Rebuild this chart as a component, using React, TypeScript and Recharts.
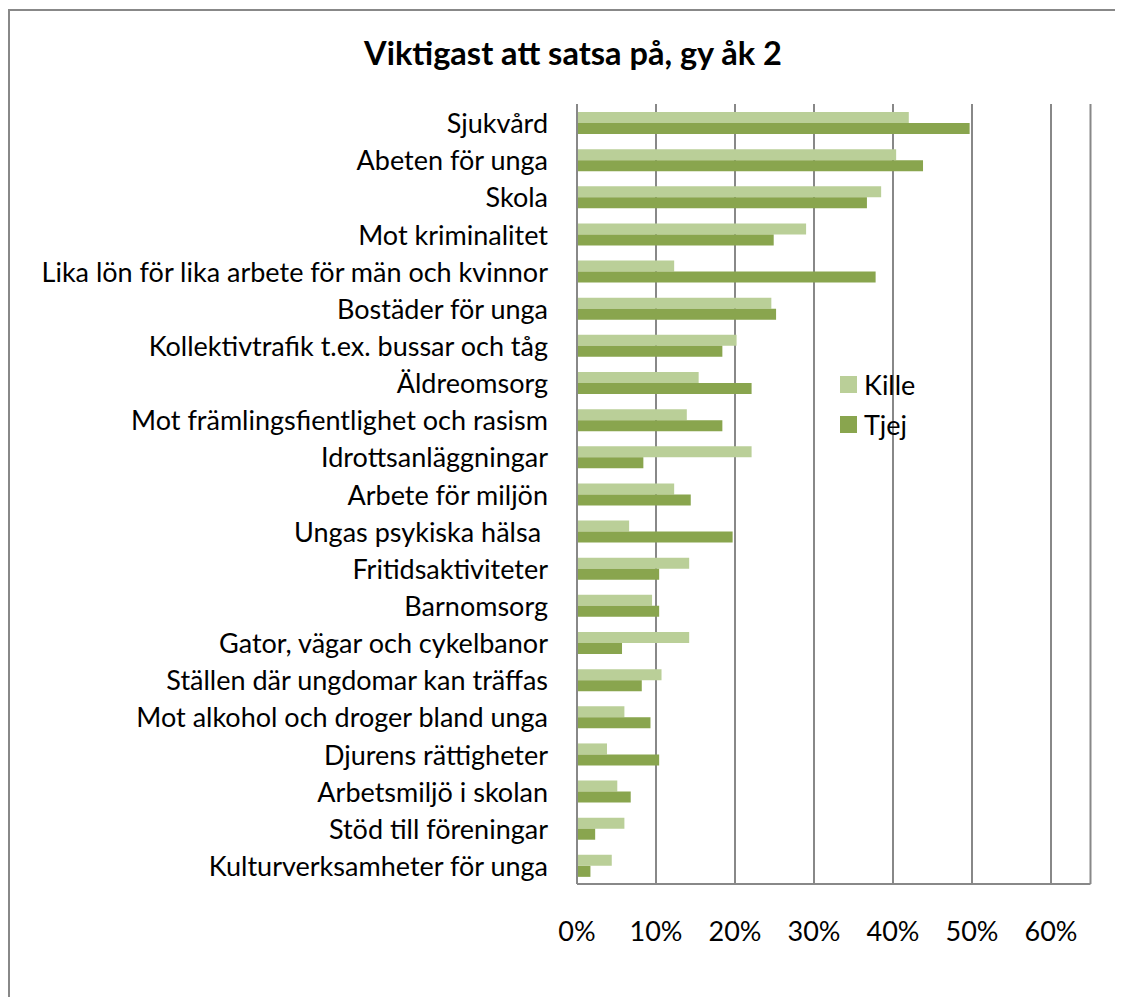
import React from 'react';
import { BarChart, Bar, XAxis, YAxis, CartesianGrid } from 'recharts';

const categories = [
  'Sjukvård',
  'Abeten för unga',
  'Skola',
  'Mot kriminalitet',
  'Lika lön för lika arbete för män och kvinnor',
  'Bostäder för unga',
  'Kollektivtrafik t.ex. bussar och tåg',
  'Äldreomsorg',
  'Mot främlingsfientlighet och rasism',
  'Idrottsanläggningar',
  'Arbete för miljön',
  'Ungas psykiska hälsa\u00a0',
  'Fritidsaktiviteter',
  'Barnomsorg',
  'Gator, vägar och cykelbanor',
  'Ställen där ungdomar kan träffas',
  'Mot alkohol och droger bland unga',
  'Djurens rättigheter',
  'Arbetsmiljö i skolan',
  'Stöd till föreningar',
  'Kulturverksamheter för unga',
];

const kille = [42, 40.4, 38.5, 29, 12.3, 24.6, 20.2, 15.4, 13.9, 22.1, 12.3, 6.6, 14.2, 9.5, 14.2, 10.7, 6, 3.8, 5.1, 6, 4.4];
const tjej = [49.7, 43.8, 36.7, 24.9, 37.8, 25.2, 18.4, 22.1, 18.4, 8.4, 14.4, 19.7, 10.4, 10.4, 5.7, 8.2, 9.3, 10.4, 6.8, 2.3, 1.7];

const xTicks = [0, 10, 20, 30, 40, 50, 60];

const FONT = 'Lato, "Open Sans", sans-serif';
const LIGHT = '#bacf98';
const DARK = '#89a54e';
const GRID = '#888888';

const data = categories.map((name, i) => ({ name, Kille: kille[i], Tjej: tjej[i] }));

function CategoryTick(props: any) {
  const { x, y, payload } = props;
  return (
    <text x={x} y={y} textAnchor="end" dominantBaseline="central" fontSize={27} fontFamily={FONT} fill="#000">
      {payload.value}
    </text>
  );
}

function LegendBox() {
  const items = [
    { label: 'Kille', color: LIGHT },
    { label: 'Tjej', color: DARK },
  ];
  return (
    <div style={{ position: 'absolute', left: 832, top: 356, fontFamily: FONT, fontSize: 27, color: '#000' }}>
      {items.map((it) => (
        <div key={it.label} style={{ display: 'flex', alignItems: 'center', height: 40 }}>
          <span style={{ width: 17, height: 17, background: it.color, display: 'inline-block', marginRight: 7 }} />
          <span>{it.label}</span>
        </div>
      ))}
    </div>
  );
}

export default function App() {
  return (
    <div style={{ position: 'relative', width: 1115, height: 989, overflow: 'hidden', background: '#fff' }}>
      <div
        style={{
          position: 'absolute',
          left: 0,
          top: 1,
          width: 2000,
          height: 2000,
          borderTop: `2px solid ${GRID}`,
          borderLeft: `2px solid ${GRID}`,
        }}
      />
      <div
        style={{
          position: 'absolute',
          left: 265,
          top: 28,
          width: 600,
          textAlign: 'center',
          fontFamily: FONT,
          fontWeight: 700,
          fontSize: 32.5,
          lineHeight: '34px',
        }}
      >
        Viktigast att satsa på, gy åk 2
      </div>
      <div style={{ position: 'absolute', left: 0, top: 0 }}>
        <BarChart
          width={1115}
          height={989}
          data={data}
          layout="vertical"
          margin={{ top: 96, right: 32.5, bottom: 0, left: 0 }}
          barCategoryGap={8}
          barGap={0}
        >
          <CartesianGrid horizontal={false} stroke={GRID} strokeWidth={2} />
          <XAxis
            type="number"
            domain={[0, 65]}
            ticks={xTicks}
            tickFormatter={(v) => `${v}%`}
            height={113}
            tickLine={false}
            tickSize={0}
            tickMargin={38}
            axisLine={{ stroke: GRID, strokeWidth: 2 }}
            tick={{ fontSize: 27, fontFamily: FONT, fill: '#000' }}
          />
          <YAxis
            type="category"
            dataKey="name"
            width={569}
            tickLine={false}
            tickSize={0}
            tickMargin={29}
            interval={0}
            axisLine={{ stroke: GRID, strokeWidth: 2 }}
            tick={<CategoryTick />}
          />
          <Bar dataKey="Kille" fill={LIGHT} isAnimationActive={false} />
          <Bar dataKey="Tjej" fill={DARK} isAnimationActive={false} />
        </BarChart>
      </div>
      <LegendBox />
    </div>
  );
}
